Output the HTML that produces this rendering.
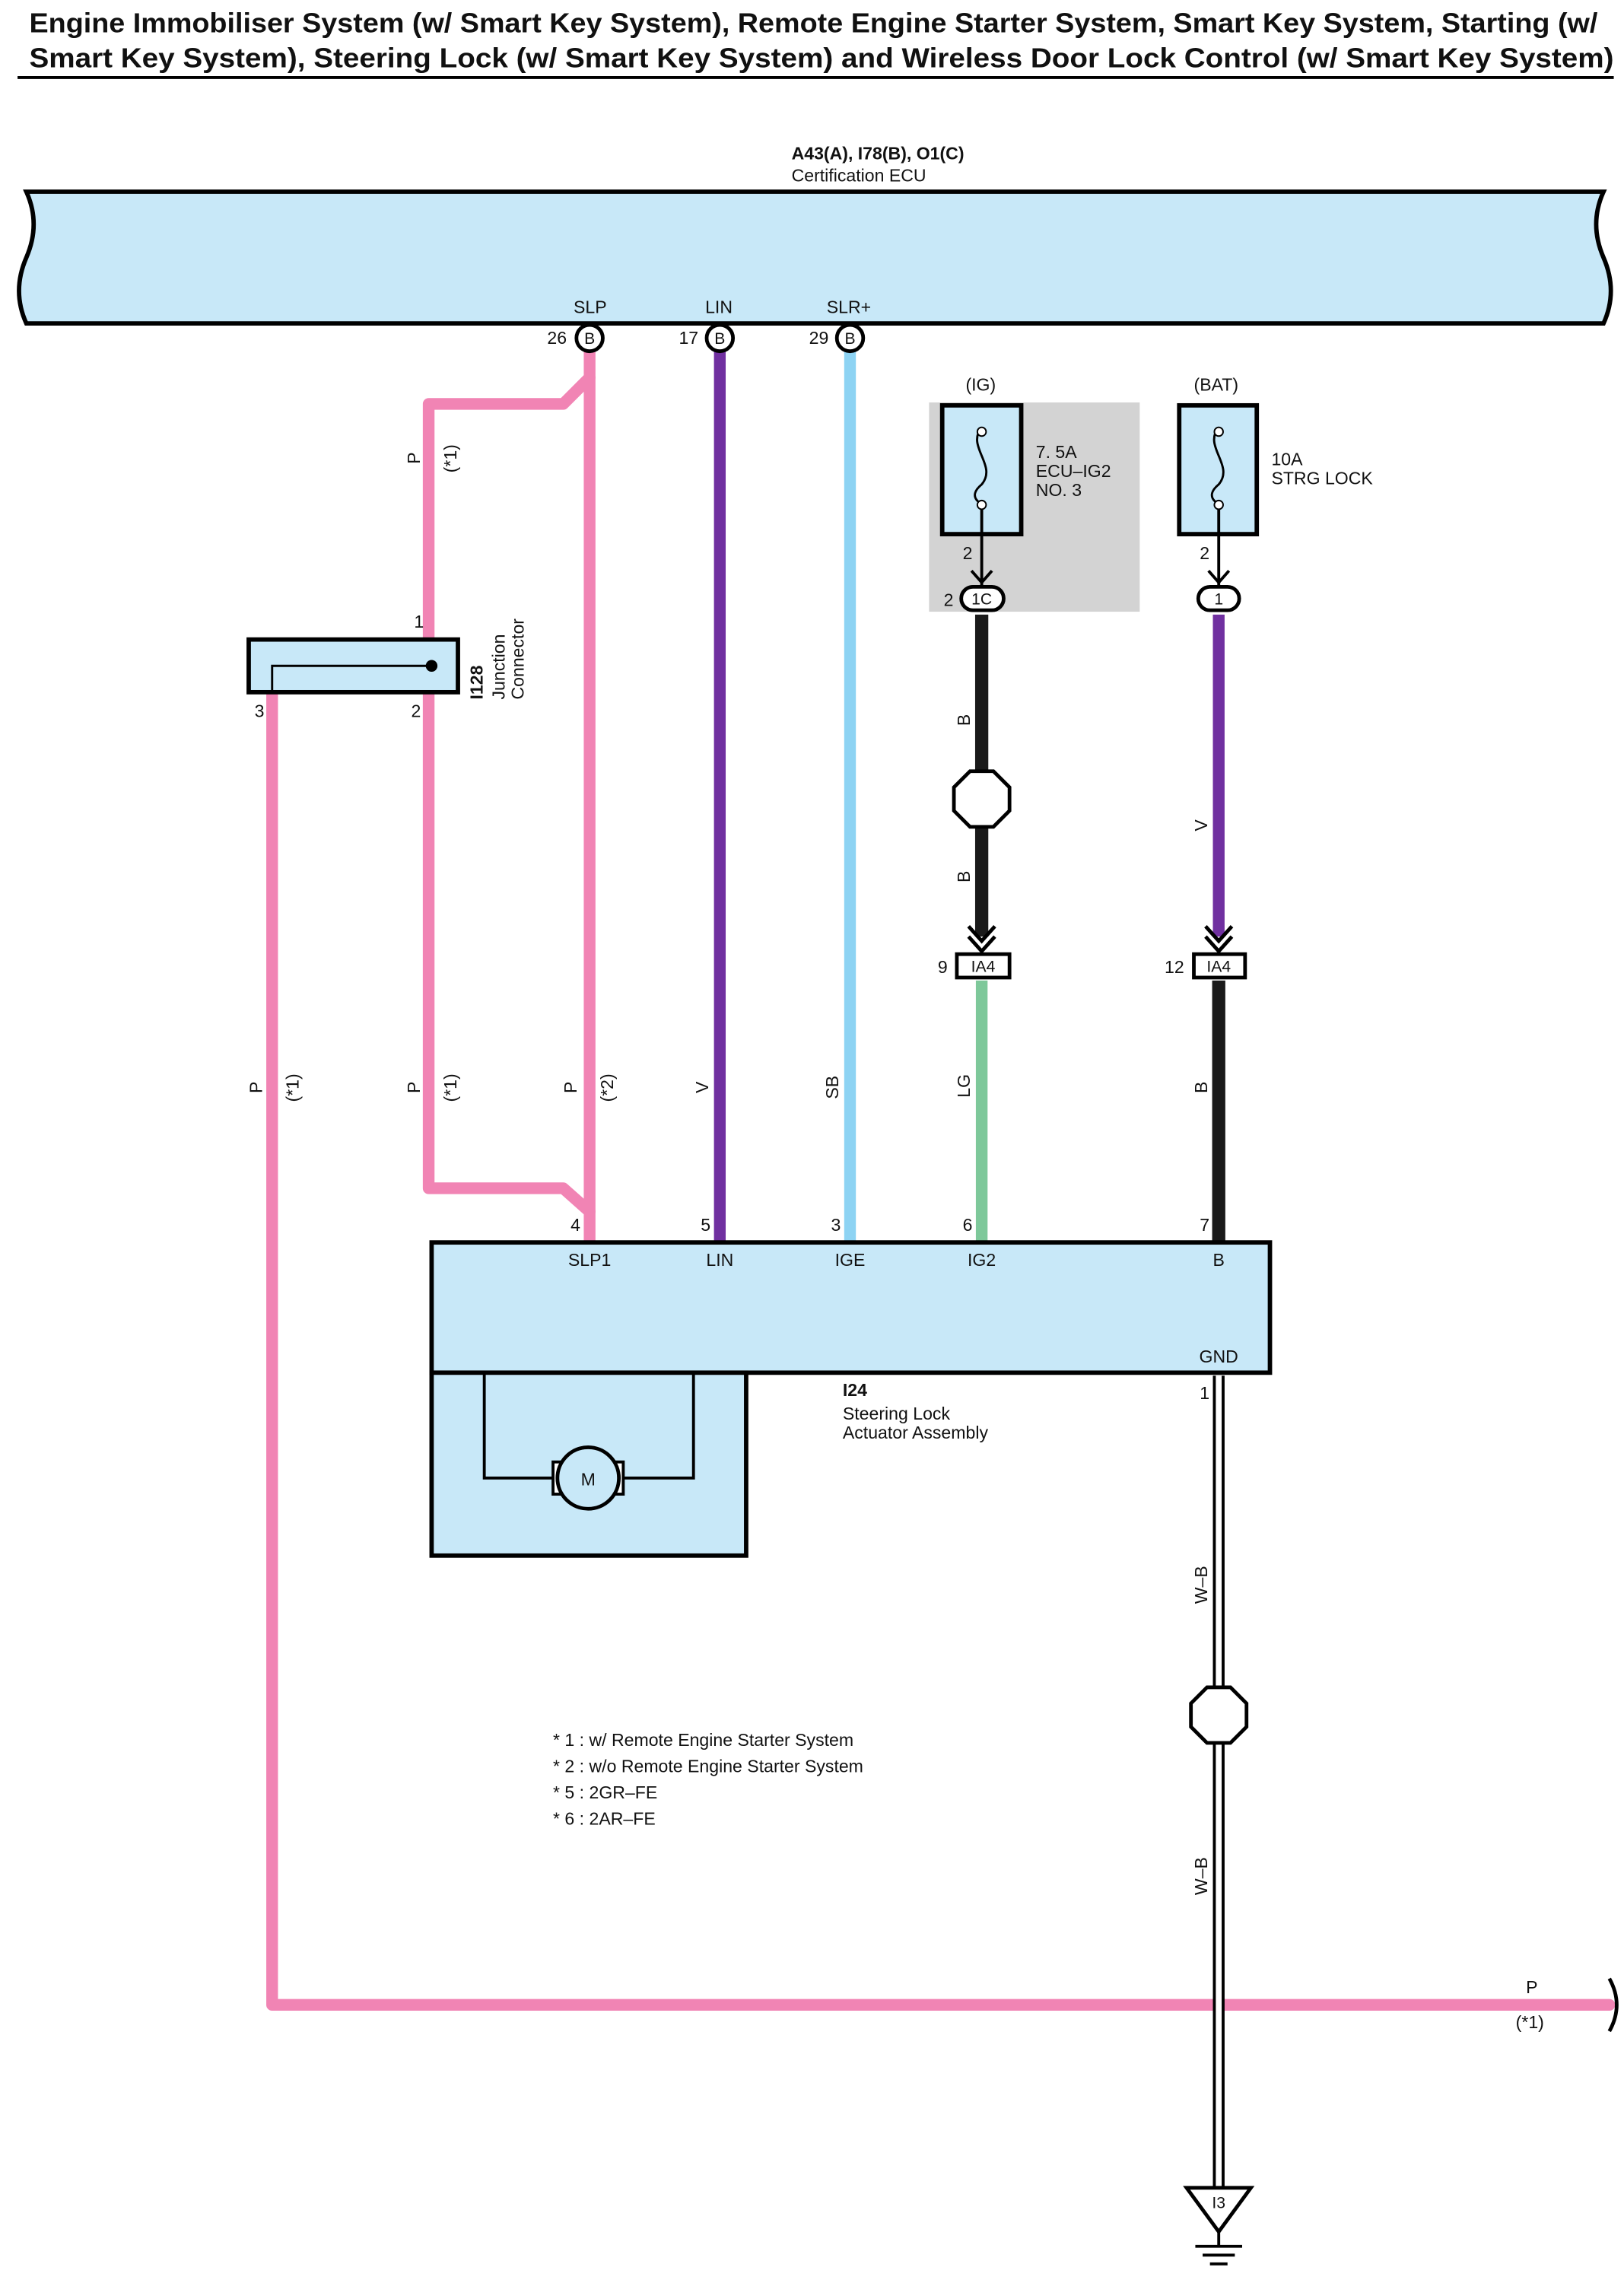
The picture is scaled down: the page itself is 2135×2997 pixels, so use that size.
<!DOCTYPE html>
<html><head><meta charset="utf-8"><style>
html,body{margin:0;padding:0;background:#fff}
svg{display:block}
text{font-family:"Liberation Sans",Arial,sans-serif;fill:#111}
</style></head><body>
<svg width="2135" height="2997" viewBox="0 0 1110 1558" preserveAspectRatio="none" xmlns="http://www.w3.org/2000/svg">
<text x="20" y="22" font-size="19" font-weight="bold" textLength="1072" lengthAdjust="spacingAndGlyphs">Engine Immobiliser System (w/ Smart Key System), Remote Engine Starter System, Smart Key System, Starting (w/</text>
<text x="20" y="46" font-size="19" font-weight="bold" textLength="1083" lengthAdjust="spacingAndGlyphs">Smart Key System), Steering Lock (w/ Smart Key System) and Wireless Door Lock Control (w/ Smart Key System)</text>
<line x1="12" y1="53" x2="1103" y2="53" stroke="#000" stroke-width="2"/>

<text x="541" y="109" font-size="12" font-weight="bold">A43(A), I78(B), O1(C)</text>
<text x="541" y="124" font-size="12">Certification ECU</text>
<path d="M18,131 L1096,131 Q1086,153 1096,176 Q1106,199 1096,221 L18,221 Q8,199 18,176 Q28,153 18,131 Z" fill="#c8e8f8" stroke="#000" stroke-width="3"/>

<g fill="none" stroke="#f184b4" stroke-width="8" stroke-linejoin="round" stroke-linecap="round">
<path d="M403,240 L403,848"/>
<path d="M403,258 L385,276 L293,276 L293,812 L385,812 L403,828"/>
<path d="M186,475 L186,1370 L1100,1370"/>
</g>
<path d="M1100,1352 Q1110,1370 1100,1388" fill="none" stroke="#000" stroke-width="2.5"/>
<line x1="492" y1="240" x2="492" y2="848" stroke="#7030a0" stroke-width="8"/>
<line x1="581" y1="240" x2="581" y2="848" stroke="#8dd3f3" stroke-width="8"/>

<g font-size="12">
<text x="392" y="214">SLP</text><text x="482" y="214">LIN</text><text x="565" y="214">SLR+</text>
<text x="374" y="235">26</text><text x="464" y="235">17</text><text x="553" y="235">29</text>
</g>
<g fill="#fff" stroke="#000" stroke-width="2.5">
<circle cx="403" cy="231" r="9"/><circle cx="492" cy="231" r="9"/><circle cx="581" cy="231" r="9"/>
</g>
<g font-size="11" text-anchor="middle"><text x="403" y="235">B</text><text x="492" y="235">B</text><text x="581" y="235">B</text></g>

<rect x="635" y="275" width="144" height="143" fill="#d3d3d3"/>
<text x="660" y="267" font-size="12">(IG)</text>
<rect x="644" y="277" width="54" height="88" fill="#c8e8f8" stroke="#000" stroke-width="3"/>
<path d="M671,292 C660,305 682,318 671,331 C660,340 672,345 671,344" fill="none" stroke="#000" stroke-width="1.5"/>
<circle cx="671" cy="295" r="3" fill="#fff" stroke="#000"/><circle cx="671" cy="345" r="3" fill="#fff" stroke="#000"/>
<line x1="671" y1="348" x2="671" y2="400" stroke="#000" stroke-width="2"/>
<text x="708" y="313" font-size="12">7. 5A</text><text x="708" y="326" font-size="12">ECU–IG2</text><text x="708" y="339" font-size="12">NO. 3</text>
<text x="658" y="382" font-size="12">2</text><text x="645" y="414" font-size="12">2</text>
<rect x="657" y="401" width="29" height="16" rx="8" fill="#fff" stroke="#000" stroke-width="2.5"/>
<text x="671" y="413" font-size="11" text-anchor="middle">1C</text>
<path d="M664,390 L671,398 L678,390" fill="none" stroke="#000" stroke-width="2"/>

<text x="816" y="267" font-size="12">(BAT)</text>
<rect x="806" y="277" width="53" height="88" fill="#c8e8f8" stroke="#000" stroke-width="3"/>
<path d="M833,292 C822,305 844,318 833,331 C822,340 834,345 833,344" fill="none" stroke="#000" stroke-width="1.5"/>
<circle cx="833" cy="295" r="3" fill="#fff" stroke="#000"/><circle cx="833" cy="345" r="3" fill="#fff" stroke="#000"/>
<line x1="833" y1="348" x2="833" y2="400" stroke="#000" stroke-width="2"/>
<text x="869" y="318" font-size="12">10A</text><text x="869" y="331" font-size="12">STRG LOCK</text>
<text x="820" y="382" font-size="12">2</text>
<path d="M826,390 L833,398 L840,390" fill="none" stroke="#000" stroke-width="2"/>
<rect x="819" y="401" width="28" height="16" rx="8" fill="#fff" stroke="#000" stroke-width="2.5"/>
<text x="833" y="413" font-size="11" text-anchor="middle">1</text>

<line x1="671" y1="420" x2="671" y2="640" stroke="#1a1a1a" stroke-width="9"/>
<line x1="833" y1="420" x2="833" y2="640" stroke="#7030a0" stroke-width="8"/>
<polygon points="663,527 679,527 690,538 690,554 679,565 663,565 652,554 652,538" fill="#fff" stroke="#000" stroke-width="2.5"/>
<g fill="none" stroke="#000" stroke-width="2.5">
<path d="M662,633 L671,643 L680,633"/><path d="M662,640 L671,650 L680,640"/>
<path d="M824,633 L833,643 L842,633"/><path d="M824,640 L833,650 L842,640"/>
</g>
<rect x="654" y="652" width="36" height="16" fill="#fff" stroke="#000" stroke-width="2.5"/>
<rect x="816" y="652" width="35" height="16" fill="#fff" stroke="#000" stroke-width="2.5"/>
<text x="672" y="664" font-size="11" text-anchor="middle">IA4</text>
<text x="833" y="664" font-size="11" text-anchor="middle">IA4</text>
<text x="641" y="665" font-size="12">9</text><text x="796" y="665" font-size="12">12</text>
<line x1="671" y1="670" x2="671" y2="848" stroke="#7ec89a" stroke-width="8"/>
<line x1="833" y1="670" x2="833" y2="848" stroke="#1a1a1a" stroke-width="9"/>

<rect x="170" y="437" width="143" height="36" fill="#c8e8f8" stroke="#000" stroke-width="3"/>
<path d="M186,473 L186,455 L295,455" fill="none" stroke="#000" stroke-width="1.5"/>
<circle cx="295" cy="455" r="4" fill="#000"/>
<text x="283" y="429" font-size="12">1</text><text x="281" y="490" font-size="12">2</text><text x="174" y="490" font-size="12">3</text>
<g font-size="12"><text transform="translate(330,478) rotate(-90)" font-weight="bold">I128</text>
<text transform="translate(345,478) rotate(-90)">Junction</text><text transform="translate(358,478) rotate(-90)">Connector</text></g>

<g font-size="12">
<text transform="translate(287,317) rotate(-90)">P</text><text transform="translate(312,323) rotate(-90)">(*1)</text>
<text transform="translate(179,747) rotate(-90)">P</text><text transform="translate(204,753) rotate(-90)">(*1)</text>
<text transform="translate(287,747) rotate(-90)">P</text><text transform="translate(312,753) rotate(-90)">(*1)</text>
<text transform="translate(394,747) rotate(-90)">P</text><text transform="translate(419,753) rotate(-90)">(*2)</text>
<text transform="translate(484,747) rotate(-90)">V</text>
<text transform="translate(573,751) rotate(-90)">SB</text>
<text transform="translate(663,750) rotate(-90)">LG</text>
<text transform="translate(825,747) rotate(-90)">B</text>
<text transform="translate(663,496) rotate(-90)">B</text>
<text transform="translate(663,603) rotate(-90)">B</text>
<text transform="translate(825,568) rotate(-90)">V</text>
<text transform="translate(825,1096) rotate(-90)">W–B</text>
<text transform="translate(825,1295) rotate(-90)">W–B</text>
<text x="1043" y="1362">P</text><text x="1036" y="1386">(*1)</text>
</g>

<rect x="295" y="849" width="573" height="89" fill="#c8e8f8" stroke="#000" stroke-width="3"/>
<rect x="295" y="938" width="215" height="125" fill="#c8e8f8" stroke="#000" stroke-width="3"/>
<path d="M331,938 L331,1010 L474,1010 L474,938" fill="none" stroke="#000" stroke-width="2"/>
<rect x="378" y="999" width="8" height="22" fill="#fff" stroke="#000" stroke-width="2"/>
<rect x="418" y="999" width="8" height="22" fill="#fff" stroke="#000" stroke-width="2"/>
<circle cx="402" cy="1010" r="21" fill="#c8e8f8" stroke="#000" stroke-width="2.5"/>
<text x="402" y="1015" font-size="12" text-anchor="middle">M</text>
<g font-size="12">
<text x="390" y="841">4</text><text x="479" y="841">5</text><text x="568" y="841">3</text><text x="658" y="841">6</text><text x="820" y="841">7</text>
<text x="403" y="865" text-anchor="middle">SLP1</text><text x="492" y="865" text-anchor="middle">LIN</text><text x="581" y="865" text-anchor="middle">IGE</text><text x="671" y="865" text-anchor="middle">IG2</text><text x="833" y="865" text-anchor="middle">B</text>
<text x="833" y="931" text-anchor="middle">GND</text><text x="820" y="956">1</text>
<text x="576" y="954" font-weight="bold">I24</text>
<text x="576" y="970">Steering Lock</text><text x="576" y="983">Actuator Assembly</text>
</g>

<line x1="833" y1="940" x2="833" y2="1495" stroke="#000" stroke-width="8"/>
<line x1="833" y1="940" x2="833" y2="1495" stroke="#fff" stroke-width="4"/>
<polygon points="825,1153 841,1153 852,1164 852,1180 841,1191 825,1191 814,1180 814,1164" fill="#fff" stroke="#000" stroke-width="2.5"/>
<polygon points="811,1495 855,1495 833,1525" fill="#fff" stroke="#000" stroke-width="2.5"/>
<text x="833" y="1509" font-size="11" text-anchor="middle">I3</text>
<line x1="833" y1="1525" x2="833" y2="1535" stroke="#000" stroke-width="2"/>
<line x1="817" y1="1535" x2="849" y2="1535" stroke="#000" stroke-width="2"/>
<line x1="822" y1="1541" x2="844" y2="1541" stroke="#000" stroke-width="2"/>
<line x1="827" y1="1547" x2="839" y2="1547" stroke="#000" stroke-width="2"/>

<g font-size="12">
<text x="378" y="1193">* 1 : w/ Remote Engine Starter System</text>
<text x="378" y="1211">* 2 : w/o Remote Engine Starter System</text>
<text x="378" y="1229">* 5 : 2GR–FE</text>
<text x="378" y="1247">* 6 : 2AR–FE</text>
</g>
</svg>
</body></html>
